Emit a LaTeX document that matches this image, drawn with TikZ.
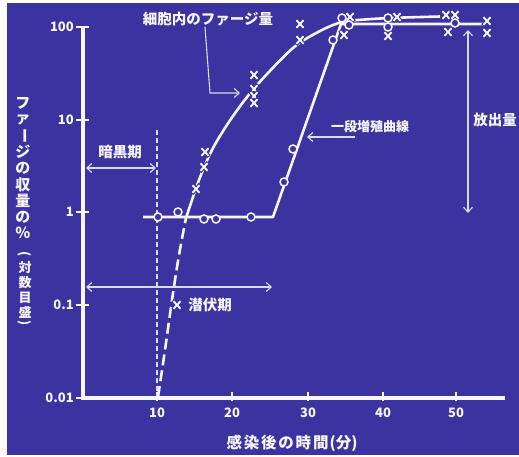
\documentclass[tikz,border=0pt]{standalone}
\usepackage{fontspec}
\setmainfont{Noto Sans CJK JP}
\usetikzlibrary{arrows.meta}
\definecolor{bg}{RGB}{58,51,160}
\definecolor{ink}{RGB}{246,246,252}
\definecolor{guidecol}{RGB}{218,218,240}
\tikzset{
  crossmk/.pic={
    \draw[bg,line width=4.2pt] (-4.2,-4.6)--(4.2,4.6) (-4.2,4.6)--(4.2,-4.6);
    \draw[ink,line width=1.9pt] (-3.5,-3.8)--(3.5,3.8) (-3.5,3.8)--(3.5,-3.8);
  }
}
\begin{document}
\begin{tikzpicture}[x=1pt,y=-1pt,
  every node/.style={text=ink, inner sep=0pt},
  axisline/.style={ink, line width=3.5pt},
  tickline/.style={ink, line width=1.8pt},
  datapath/.style={ink, line width=2.6pt, line join=round},
  dashdata/.style={ink, line width=2.6pt, dash pattern=on 11pt off 5pt},
  guide/.style={draw=guidecol, line width=1.1pt},
  guidearrow/.style={guide, -{Straight Barb[length=5pt,width=9pt]}},
  guidedouble/.style={guide, {Straight Barb[length=5pt,width=9pt]}-{Straight Barb[length=5pt,width=9pt]}},
  ticklab/.style={font=\fontsize{13}{13}\selectfont\bfseries},
  lab/.style={font=\fontsize{14.5}{14.5}\selectfont\bfseries},
  ylabch/.style={font=\fontsize{15}{15}\selectfont\bfseries},
  ylabsm/.style={font=\fontsize{13}{13}\selectfont\bfseries},
  circ/.style={draw=ink, fill=bg, line width=1.5pt, circle, minimum size=8pt, inner sep=0pt},
]
\useasboundingbox (0,0) rectangle (519,457);
\fill[white] (0,0) rectangle (519,457);
\fill[bg] (7,3) rectangle (519,455);

% axes
\coordinate (O) at (83,398);
\coordinate (ytop) at (83,27);
\coordinate (xend) at (505,398);
\draw[axisline] (ytop) -- (O) -- (xend);

% y ticks and labels
\foreach \yy/\lbl [count=\i] in {27/100, 120/10, 212/1, 305/0.1, 398/0.01}{
  \draw[tickline] (76,\yy) -- (89,\yy);
  \node[ticklab, anchor=east] (yt\i) at (74,\yy) {\lbl};
}
% x ticks and labels
\foreach \xx/\lbl [count=\i] in {157/10, 232/20, 308/30, 383/40, 456/50}{
  \draw[tickline] (\xx,392) -- (\xx,401);
  \node[ticklab] (xt\i) at (\xx,413) {\lbl};
}

% axis titles
\node[font=\fontsize{15.5}{15.5}\selectfont\bfseries] (xlab) at (292,443)
  {感\kern1.8pt 染\kern1.8pt 後\kern1.8pt の\kern1.8pt 時\kern1.8pt 間\kern1pt (分)};
\foreach \ch/\yy [count=\i] in {フ/103, ァ/120, {\rotatebox{-90}{ー}}/136, ジ/152, の/168, 収/185, 量/201, の/217, ％/233}{
  \node[ylabch] (yl\i) at (23,\yy) {\ch};
}
\foreach \ch/\yy [count=\i] in {{\rotatebox{-90}{(}}/254, 対/268, 数/283, 目/298, 盛/312, {\rotatebox{-90}{)}}/323}{
  \node[ylabsm] (ys\i) at (25,\yy) {\ch};
}

% dashed line at 10 min
\coordinate (dtop) at (157,130);
\coordinate (dbot) at (157,397);
\draw[guide, dash pattern=on 5pt off 3pt] (dtop) -- (dbot);

% period arrows
\coordinate (dkL) at (86,168);
\coordinate (dkR) at (156,168);
\draw[guidedouble] (dkL) -- (dkR);
\node[lab] (dark) at (120,152) {暗黒期};

\coordinate (ltL) at (86,287);
\coordinate (ltR) at (272,287);
\draw[guidedouble] (ltL) -- (ltR);
\node[lab] (latent) at (210,305) {潜伏期};

\coordinate (rlT) at (468,30);
\coordinate (rlB) at (468,213);
\draw[guidedouble] (rlT) -- (rlB);
\node[lab] (release) at (495,120) {放出量};

% labels with pointers
\node[lab] (phage) at (208,19) {細胞内のファージ量};
\coordinate (phA) at (205,27);
\coordinate (phB) at (210,93);
\coordinate (phC) at (240,93);
\draw[guidearrow] (phA) -- (phB) -- (phC);

\node[font=\fontsize{13}{13}\selectfont\bfseries] (step) at (370,127) {一段増殖曲線};
\coordinate (stA) at (355,137);
\coordinate (stB) at (307,137);
\draw[guidearrow] (stA) -- (stB);

% intracellular phage curve
\draw[dashdata] plot[smooth] coordinates {(158,397) (165,350) (172,300) (179,255) (186,218)};
\draw[datapath] plot[smooth] coordinates {(186,218) (199,180) (213,148) (233,116) (257,85) (293,48) (320,31) (342,22) (365,19.5) (390,18) (415,17.2) (440,16.5)};

% one-step growth curve
\coordinate (g1) at (143,217);
\coordinate (g2) at (273,217);
\coordinate (g3) at (341,24);
\coordinate (g4) at (483,24);
\draw[datapath] (g1) -- (g2) -- (g3) -- (g4);

% crosses
\foreach \px/\py [count=\i] in {177/305, 196/189, 204/167, 205/152, 254/75, 254/89, 254/96, 254/103,
  300/24, 300/40, 350/17, 344/35, 397/17, 388/36, 446/15, 455/15, 448/32, 487/21, 487/33}{
  \pic (cx\i) at (\px,\py) {crossmk};
}
% circles
\foreach \px/\py [count=\i] in {158/217, 178/212, 204/219, 216/219, 251/217, 284/182, 293/149,
  333/40, 342/18, 349/25, 388/18, 388/27, 455/23}{
  \node[circ] (c\i) at (\px,\py) {};
}
\end{tikzpicture}
\end{document}
